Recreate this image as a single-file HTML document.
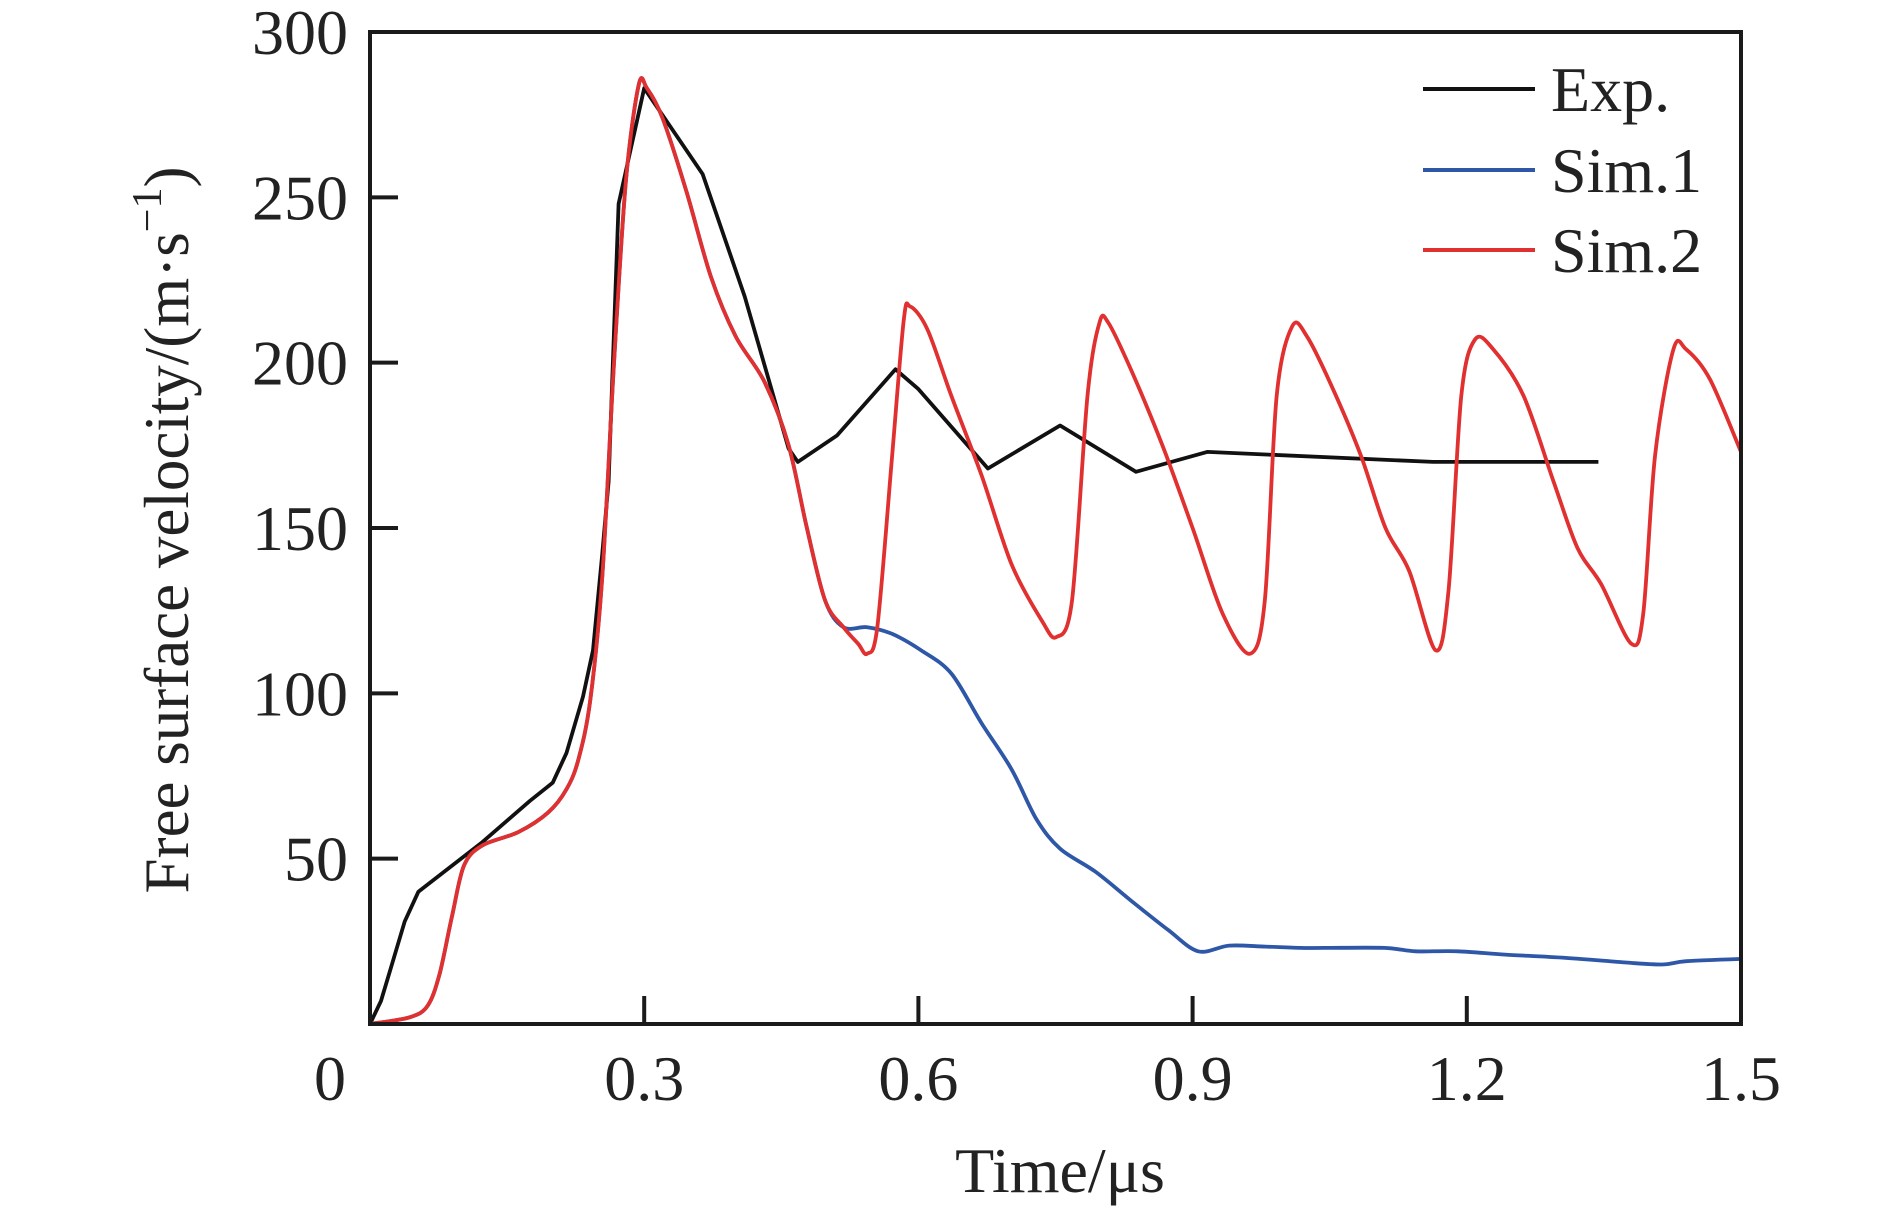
<!DOCTYPE html>
<html><head><meta charset="utf-8"><style>
html,body{margin:0;padding:0;background:#fff}
svg{display:block;font-family:"Liberation Serif",serif}
</style></head><body>
<svg id="chart" width="1890" height="1207" viewBox="0 0 1890 1207" xmlns="http://www.w3.org/2000/svg">
<g id="plot"></g>
</svg>
<script>
const xTicks=[0,0.3,0.6,0.9,1.2,1.5];
const xTickLabels=["0","0.3","0.6","0.9","1.2","1.5"];
const yTicks=[50,100,150,200,250,300];
const yTickLabels=["50","100","150","200","250","300"];
const expT=[0,0.012,0.024,0.038,0.053,0.123,0.175,0.2,0.215,0.233,0.244,0.254,0.261,0.272,0.3,0.364,0.41,0.458,0.468,0.511,0.575,0.6,0.676,0.755,0.838,0.916,1.163,1.344];
const expV=[0,7,18,31,40,55,67.5,73,82,99,113,142,164,248,283,257,220,174,170,178,198,192,168,181,167,173,170,170];
const sim2T=[0,0.043,0.063,0.076,0.09,0.103,0.123,0.162,0.195,0.215,0.228,0.241,0.254,0.267,0.28,0.294,0.303,0.32,0.346,0.373,0.4,0.432,0.458,0.478,0.498,0.518,0.534,0.544,0.555,0.571,0.584,0.591,0.61,0.636,0.669,0.702,0.735,0.751,0.768,0.785,0.798,0.808,0.834,0.867,0.9,0.933,0.963,0.979,0.992,1.009,1.025,1.052,1.084,1.111,1.137,1.166,1.18,1.194,1.209,1.229,1.262,1.295,1.321,1.347,1.38,1.393,1.406,1.426,1.44,1.466,1.5];
const sim2V=[0,2,5.5,15,33,48,54,58,64,71,80,98,135,200,255,284,283,274,252,226,208,194,175,150,128,120,115,112,120,171,213,217,210,190,166,139,122,117,128,190,212,212,197,175,150,124,112,128,190,211,208,193,172,150,137,113,131,190,207,204,190,164,144,133,115,124,172,204,204,195,173];
const sim1T=[0,0.043,0.063,0.076,0.09,0.103,0.123,0.162,0.195,0.215,0.228,0.241,0.254,0.267,0.28,0.294,0.303,0.32,0.346,0.373,0.4,0.432,0.458,0.478,0.498,0.518,0.544,0.571,0.603,0.636,0.669,0.702,0.729,0.755,0.794,0.834,0.873,0.906,0.94,0.98,1.018,1.045,1.11,1.144,1.19,1.242,1.308,1.374,1.414,1.44,1.5];
const sim1V=[0,2,5.5,15,33,48,54,58,64,71,80,98,135,200,255,284,283,274,252,226,208,194,175,150,128,120,120,118,113,106,91,77,62,53,46,37,28.5,22,23.7,23.4,23,23,23,22,22,21,20,18.6,18,19,19.7];

const L=370,R=1741,T=32,B=1024;
const X=t=>L+(t/1.5)*(R-L);
const Y=v=>B-(v/300)*(B-T);
const NS="http://www.w3.org/2000/svg";
const g=document.getElementById('plot');
function mk(tag,attrs,parent){const e=document.createElementNS(NS,tag);for(const k in attrs)e.setAttribute(k,attrs[k]);(parent||g).appendChild(e);return e;}

function pathD(ts,vs,smooth){
  const p=ts.map((t,i)=>[X(t),Y(vs[i])]);
  if(!smooth) return p.map((q,i)=>(i?'L':'M')+q[0].toFixed(1)+' '+q[1].toFixed(1)).join(' ');
  let d='M'+p[0][0].toFixed(1)+' '+p[0][1].toFixed(1);
  for(let i=0;i<p.length-1;i++){
    const p0=p[Math.max(0,i-1)],p1=p[i],p2=p[i+1],p3=p[Math.min(p.length-1,i+2)];
    const k=0.16;
    const c1=[p1[0]+(p2[0]-p0[0])*k,p1[1]+(p2[1]-p0[1])*k];
    const c2=[p2[0]-(p3[0]-p1[0])*k,p2[1]-(p3[1]-p1[1])*k];
    d+=' C'+c1[0].toFixed(1)+' '+c1[1].toFixed(1)+' '+c2[0].toFixed(1)+' '+c2[1].toFixed(1)+' '+p2[0].toFixed(1)+' '+p2[1].toFixed(1);
  }
  return d;
}
function series(ts,vs,color,name,smooth){
  const p=mk('path',{d:pathD(ts,vs,smooth),fill:'none',stroke:color,'stroke-width':3.8,'stroke-linejoin':'round'});
  
  
}
series(sim1T,sim1V,'#2f57a8','sim1-line',true);
series(expT,expV,'#111','exp-line',false);
series(sim2T,sim2V,'#e0302f','sim2-line',true);

const fr=mk('rect',{x:L,y:T,width:R-L,height:B-T,fill:'none',stroke:'#1a1a1a','stroke-width':4});



xTicks.forEach((t,i)=>{
  if(t>0&&t<1.5){const tk=mk('line',{x1:X(t),x2:X(t),y1:B,y2:B-28,stroke:'#1a1a1a','stroke-width':4});
  
  }
  const tx=mk('text',{x:t===0?X(t)-40:X(t),y:1100,'font-size':64,'text-anchor':'middle',fill:'#222'});
  tx.textContent=xTickLabels[i];
  
  
});
yTicks.forEach((v,i)=>{
  if(v<300){const tk=mk('line',{x1:L,x2:L+28,y1:Y(v),y2:Y(v),stroke:'#1a1a1a','stroke-width':4});
  
  }
  const tx=mk('text',{x:348,y:Y(v)+22,'font-size':64,'text-anchor':'end',fill:'#222'});
  tx.textContent=yTickLabels[i];
  
  
});

const xt=mk('text',{x:1060,y:1192,'font-size':64,'text-anchor':'middle',fill:'#222'});
xt.textContent='Time/μs';



const yt=mk('text',{x:0,y:0,'font-size':63,'text-anchor':'middle',fill:'#222',transform:'translate(188,530) rotate(-90)'});


yt.appendChild(document.createTextNode('Free surface velocity/(m·s'));
const sup=mk('tspan',{'font-size':42,dy:-27},yt);sup.textContent='−1';
const cl=mk('tspan',{dy:27},yt);cl.textContent=')';

const legNames=['Exp.','Sim.1','Sim.2'];
const legColors=['#111','#2f57a8','#e0302f'];
const legY=[89,170,250];
legNames.forEach((n,i)=>{
  const ln=mk('line',{x1:1423,x2:1535,y1:legY[i],y2:legY[i],stroke:legColors[i],'stroke-width':4});
  
  
  const tx=mk('text',{x:1551,y:legY[i]+22,'font-size':64,fill:'#222'});
  tx.textContent=n;
  
  
});
</script>
</body></html>
